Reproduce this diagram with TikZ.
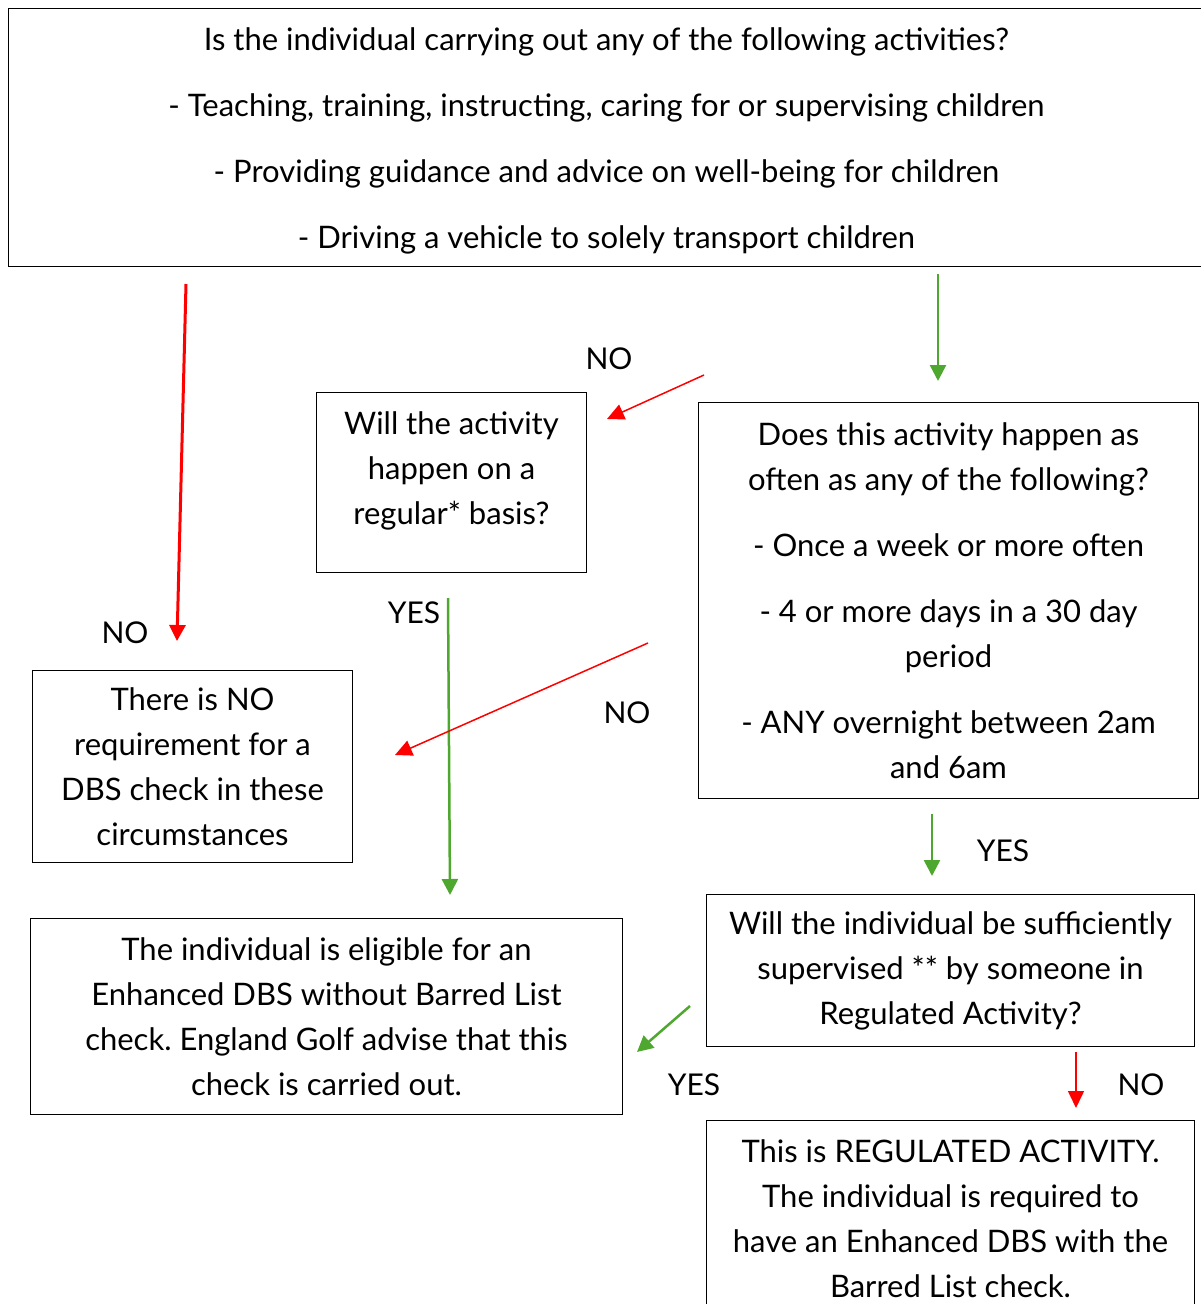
\documentclass[tikz,border=0pt]{standalone}
\usepackage{fontspec}
\setmainfont{Lato}
\frenchspacing
\usetikzlibrary{arrows.meta,positioning}
\definecolor{yesgreen}{RGB}{78,167,46}
\definecolor{nored}{RGB}{255,0,0}

\begin{document}
\begin{tikzpicture}[x=1pt, y=-1pt,
  box/.style={rectangle, draw=black, line width=1pt, anchor=north west, align=center, inner sep=0pt, font=\fontsize{31}{45}\selectfont},
  boxtext/.style={align=center, inner sep=0pt, font=\fontsize{31}{45}\selectfont},
  lbl/.style={font=\fontsize{30}{34}\selectfont, inner sep=0pt},
  yesarrow/.style={draw=yesgreen, line width=2.5pt, -{Triangle[length=16pt,width=16pt]}},
  noarrow/.style={draw=nored, line width=3pt, -{Triangle[length=16pt,width=16pt]}},
  nothin/.style={draw=nored, line width=1.5pt, -{Triangle[length=17pt,width=16pt]}}]

\useasboundingbox (0,0) rectangle (1200,1304);

% Entry question
\node[box, minimum width=1196pt, minimum height=258pt] (entry) at (8,8) {};
\node[boxtext] (entrytext) at ([yshift=-3pt]entry.center) {Is the individual carrying out any of the following activities?\\[21pt]- Teaching, training, instructing, caring for or supervising children\\[21pt]- Providing guidance and advice on well-being for children\\[21pt]- Driving a vehicle to solely transport children};

% Regular basis
\node[box, minimum width=270pt, minimum height=180pt] (regular) at (316,392) {};
\node[boxtext] (regulartext) at ([yshift=12pt]regular.center) {Will the activity\\happen on a\\regular* basis?};

% Frequency
\node[box, minimum width=500pt, minimum height=396pt] (often) at (698,402) {Does this activity happen as\\often as any of the following?\\[21pt]- Once a week or more often\\[21pt]- 4 or more days in a 30 day\\period\\[21pt]- ANY overnight between 2am\\and 6am};

% Outcomes
\node[box, minimum width=320pt, minimum height=192pt] (nocheck) at (32,670) {There is NO\\requirement for a\\DBS check in these\\circumstances};
\node[box, minimum width=592pt, minimum height=196pt] (enhanced) at (30,918) {The individual is eligible for an\\Enhanced DBS without Barred List\\check. England Golf advise that this\\check is carried out.};
\node[box, minimum width=488pt, minimum height=152pt] (supervised) at (706,894) {Will the individual be sufficiently\\supervised ** by someone in\\Regulated Activity?};
\node[box, minimum width=488pt, minimum height=196pt] (regulated) at (706,1120) {This is REGULATED ACTIVITY.\\The individual is required to\\have an Enhanced DBS with the\\Barred List check.};

% Arrow ends
\coordinate (e1) at (186,284);  \coordinate (n1) at (177,641);
\coordinate (e2) at (938,274);  \coordinate (o2) at (938,381);
\coordinate (o3) at (704,375);  \coordinate (r3) at (607,419);
\coordinate (r4) at (448,598);  \coordinate (x4) at (450,895);
\coordinate (o5) at (648,643);  \coordinate (n5) at (395,755);
\coordinate (o6) at (932,814);  \coordinate (s6) at (932,876);
\coordinate (s7) at (690,1006); \coordinate (x7) at (637,1052);
\coordinate (s8) at (1076,1052); \coordinate (g8) at (1076,1108);

% Arrows
\draw[noarrow] (e1) -- (n1);
\draw[yesarrow] (e2) -- (o2);
\draw[nothin] (o3) -- (r3);
\draw[yesarrow] (r4) -- (x4);
\draw[nothin] (o5) -- (n5);
\draw[yesarrow] (o6) -- (s6);
\draw[yesarrow] (s7) -- (x7);
\draw[nothin] (s8) -- (g8);

% Labels
\node[lbl] (l1) at (125,633) {NO};
\node[lbl] (l2) at (609,359) {NO};
\node[lbl] (l3) at (414,613) {YES};
\node[lbl] (l4) at (627,713) {NO};
\node[lbl] (l5) at (1003,851) {YES};
\node[lbl] (l6) at (694,1085) {YES};
\node[lbl] (l7) at (1141,1085) {NO};

\end{tikzpicture}
\end{document}
